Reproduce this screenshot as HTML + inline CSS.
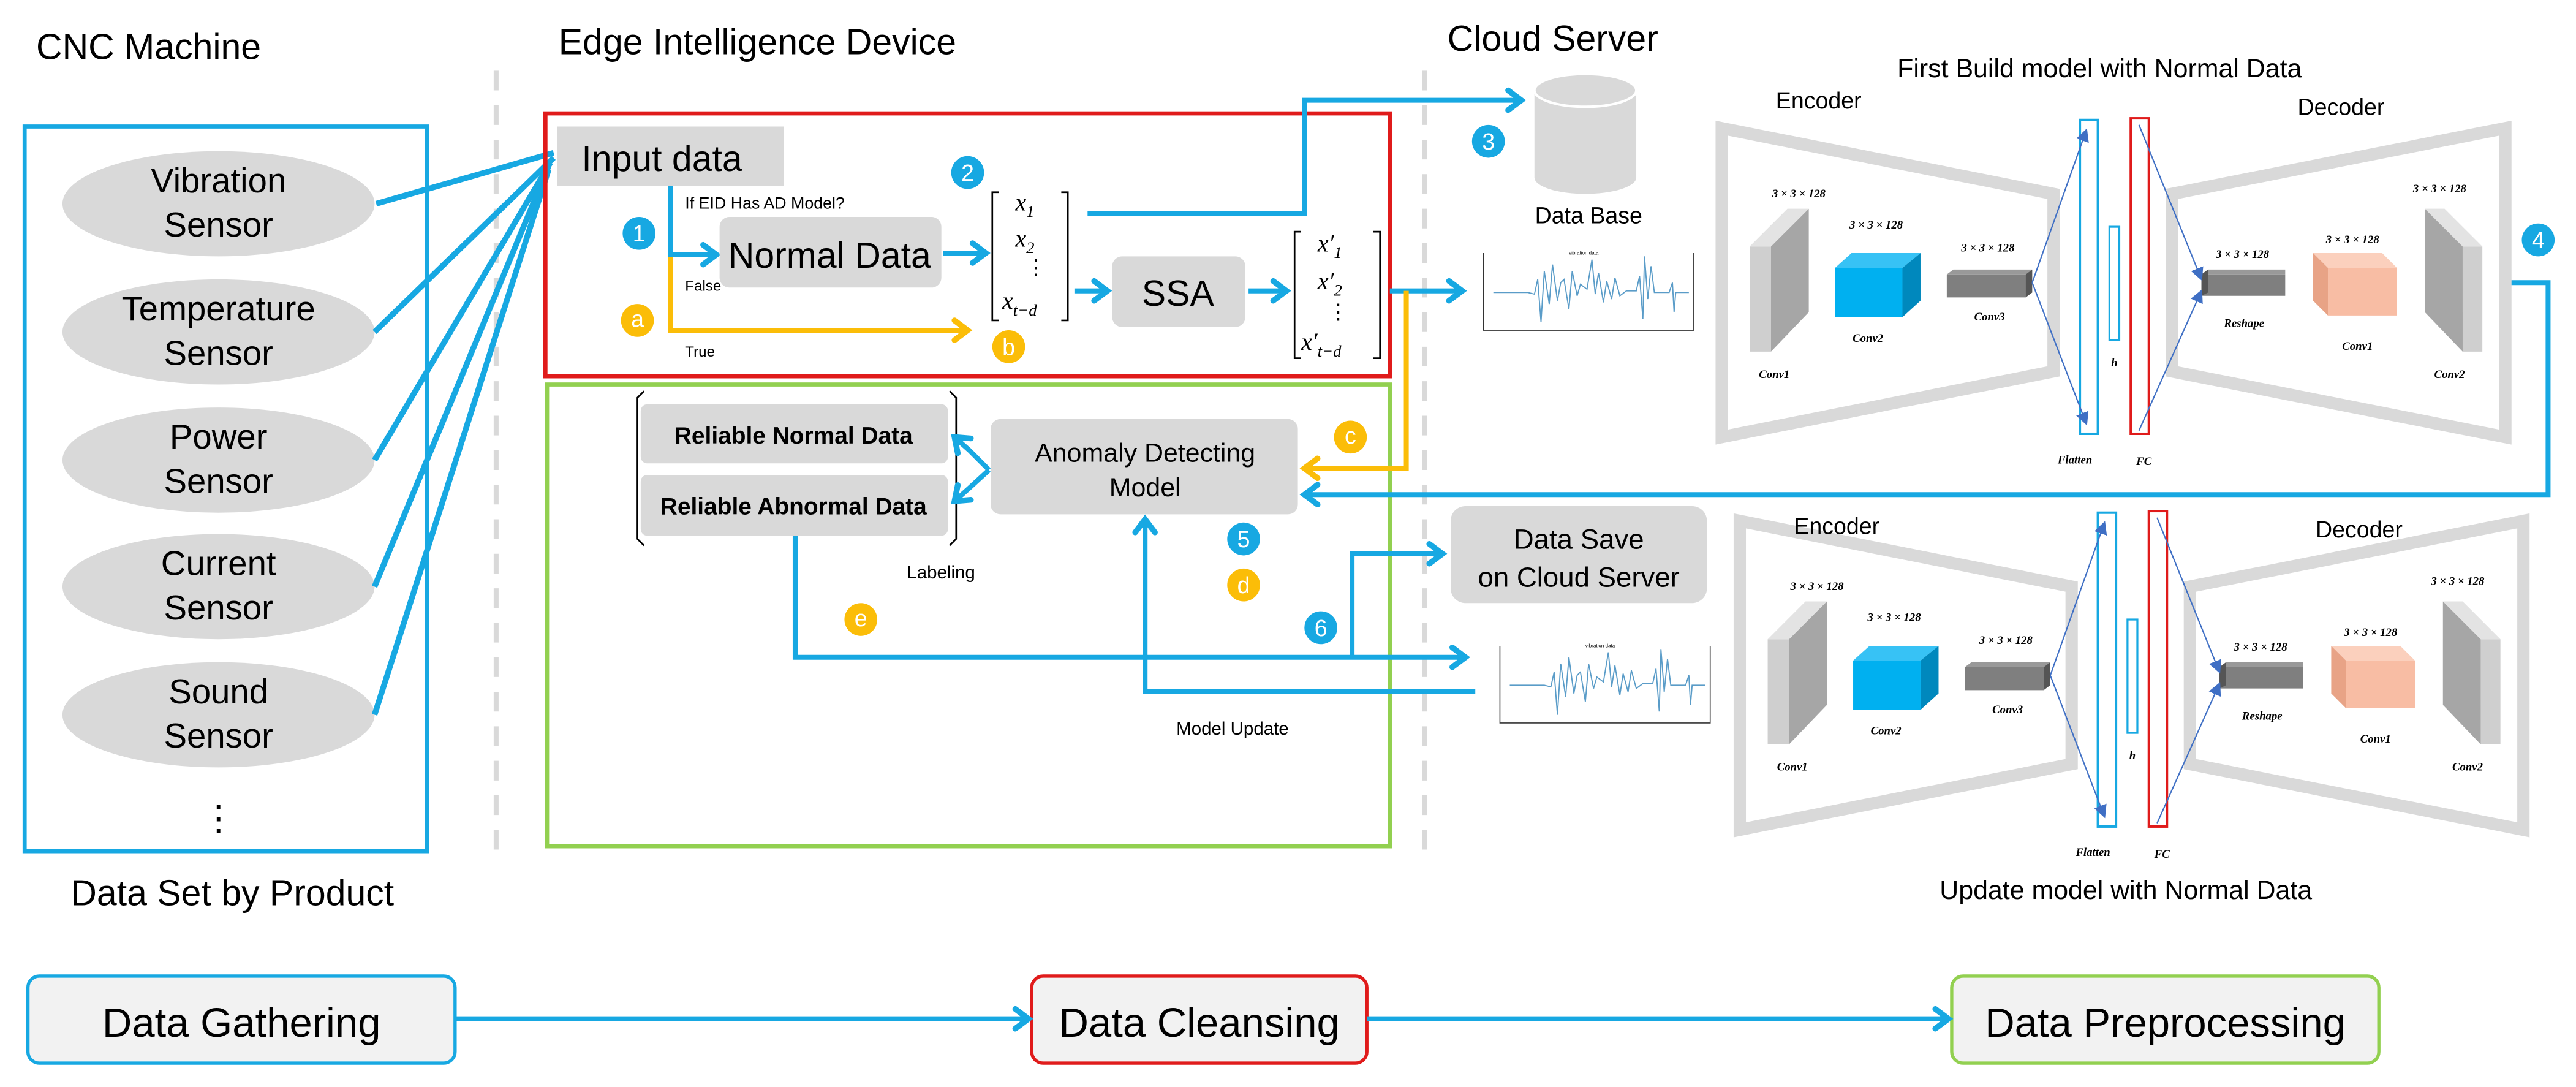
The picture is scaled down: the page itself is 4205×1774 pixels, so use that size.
<!DOCTYPE html>
<html><head><meta charset="utf-8"><style>
html,body{margin:0;padding:0;background:#fff;}
svg{display:block;}
text{font-family:"Liberation Sans",sans-serif;fill:#000;}
.m{font-family:"Liberation Serif",serif;font-style:italic;}
.s{font-family:"Liberation Serif",serif;font-style:italic;font-weight:bold;font-size:7px;}
</style></head><body>
<svg width="4205" height="1774" viewBox="0 0 1568 661.5" preserveAspectRatio="none" xmlns="http://www.w3.org/2000/svg">
<defs>
<marker id="ab" markerUnits="userSpaceOnUse" markerWidth="14" markerHeight="16" refX="11" refY="8" orient="auto"><path d="M3,2 L11,8 L3,14" fill="none" stroke="#17a8e2" stroke-width="3.5" stroke-linecap="round"/></marker>
<marker id="ao" markerUnits="userSpaceOnUse" markerWidth="14" markerHeight="16" refX="11" refY="8" orient="auto"><path d="M3,2 L11,8 L3,14" fill="none" stroke="#fbbd08" stroke-width="3.5" stroke-linecap="round"/></marker>
<marker id="ad" markerUnits="userSpaceOnUse" markerWidth="8" markerHeight="8" refX="7" refY="4" orient="auto"><path d="M0,0 L8,4 L0,8 Z" fill="#3f6fc4"/></marker>
</defs>

<text x="22" y="36" font-size="22">CNC Machine</text>
<text x="340" y="33" font-size="22">Edge Intelligence Device</text>
<text x="881" y="31" font-size="22">Cloud Server</text>

<line x1="302" y1="43" x2="302" y2="523" stroke="#d9d9d9" stroke-width="3" stroke-dasharray="12,9"/>
<line x1="867" y1="43" x2="867" y2="523" stroke="#d9d9d9" stroke-width="3" stroke-dasharray="12,9"/>

<rect x="15" y="77" width="245" height="441" fill="none" stroke="#17a8e2" stroke-width="2.5"/>
<g fill="#d9d9d9">
<ellipse cx="133" cy="124" rx="95" ry="32"/>
<ellipse cx="133" cy="202" rx="95" ry="32"/>
<ellipse cx="133" cy="280" rx="95" ry="32"/>
<ellipse cx="133" cy="357" rx="95" ry="32"/>
<ellipse cx="133" cy="435" rx="95" ry="32"/>
</g>
<g font-size="21" text-anchor="middle">
<text x="133" y="117">Vibration</text><text x="133" y="144">Sensor</text>
<text x="133" y="195">Temperature</text><text x="133" y="222">Sensor</text>
<text x="133" y="273">Power</text><text x="133" y="300">Sensor</text>
<text x="133" y="350">Current</text><text x="133" y="377">Sensor</text>
<text x="133" y="428">Sound</text><text x="133" y="455">Sensor</text>
<text x="133" y="505">⋮</text>
</g>
<text x="43" y="551" font-size="22">Data Set by Product</text>

<g stroke="#17a8e2" stroke-width="3.5" fill="none">
<line x1="229" y1="124" x2="337" y2="93"/>
<line x1="228" y1="202" x2="337" y2="96"/>
<line x1="228" y1="280" x2="335" y2="99"/>
<line x1="228" y1="357" x2="334" y2="101"/>
<line x1="228" y1="435" x2="334" y2="103"/>
</g>

<rect x="332" y="69" width="514" height="160" fill="none" stroke="#e01b1b" stroke-width="2.5"/>
<rect x="333" y="234" width="513" height="281" fill="none" stroke="#92d050" stroke-width="2.5"/>

<rect x="339" y="77" width="138" height="36" fill="#d9d9d9"/>
<text x="354" y="104" font-size="22">Input data</text>
<text x="417" y="127" font-size="10">If EID Has AD Model?</text>

<polyline points="408,155 408,201 589,201" fill="none" stroke="#fbbd08" stroke-width="3" marker-end="url(#ao)"/>
<polyline points="408,113 408,155 436,155" fill="none" stroke="#17a8e2" stroke-width="3" marker-end="url(#ab)"/>
<text x="417" y="177" font-size="9">False</text>
<text x="417" y="217" font-size="9">True</text>

<rect x="438" y="132" width="135" height="43" rx="6" fill="#d9d9d9"/>
<text x="505" y="163" font-size="22" text-anchor="middle">Normal Data</text>
<line x1="574" y1="154" x2="600" y2="154" stroke="#17a8e2" stroke-width="3" marker-end="url(#ab)"/>

<path d="M608,117 L604,117 L604,195 L608,195 M646,117 L650,117 L650,195 L646,195" fill="none" stroke="#000" stroke-width="1"/>
<text class="m" x="618" y="128" font-size="15">x<tspan font-size="10" dy="4">1</tspan></text>
<text class="m" x="618" y="150" font-size="15">x<tspan font-size="10" dy="4">2</tspan></text>
<text x="624" y="167" font-size="13">⋮</text>
<text class="m" x="610" y="188" font-size="15">x<tspan font-size="10" dy="4">t−d</tspan></text>

<line x1="654" y1="177" x2="674" y2="177" stroke="#17a8e2" stroke-width="3" marker-end="url(#ab)"/>
<rect x="677" y="156" width="81" height="43" rx="6" fill="#d9d9d9"/>
<text x="717" y="186" font-size="22" text-anchor="middle">SSA</text>
<line x1="760" y1="177" x2="783" y2="177" stroke="#17a8e2" stroke-width="3" marker-end="url(#ab)"/>

<path d="M792,141 L788,141 L788,218 L792,218 M836,141 L840,141 L840,218 L836,218" fill="none" stroke="#000" stroke-width="1"/>
<text class="m" x="802" y="153" font-size="15">x′<tspan font-size="10" dy="4">1</tspan></text>
<text class="m" x="802" y="176" font-size="15">x′<tspan font-size="10" dy="4">2</tspan></text>
<text x="808" y="194" font-size="13">⋮</text>
<text class="m" x="792" y="213" font-size="15">x′<tspan font-size="10" dy="4">t−d</tspan></text>

<polyline points="662,130 794,130 794,61 926,61" fill="none" stroke="#17a8e2" stroke-width="3" marker-end="url(#ab)"/>
<line x1="846" y1="177" x2="890" y2="177" stroke="#17a8e2" stroke-width="3" marker-end="url(#ab)"/>
<polyline points="856,177 856,285 794,285" fill="none" stroke="#fbbd08" stroke-width="3" marker-end="url(#ao)"/>
<polyline points="1528,172 1551,172 1551,301 794,301" fill="none" stroke="#17a8e2" stroke-width="3" marker-end="url(#ab)"/>

<path d="M392,238 L388,242 L388,328 L392,332 M578,238 L582,242 L582,328 L578,332" fill="none" stroke="#000" stroke-width="1"/>
<rect x="390" y="246" width="187" height="36" rx="4" fill="#d9d9d9"/>
<rect x="390" y="289" width="187" height="37" rx="4" fill="#d9d9d9"/>
<text x="483" y="270" font-size="14.5" font-weight="bold" text-anchor="middle">Reliable Normal Data</text>
<text x="483" y="313" font-size="14.5" font-weight="bold" text-anchor="middle">Reliable Abnormal Data</text>

<rect x="603" y="255" width="187" height="58" rx="6" fill="#d9d9d9"/>
<text x="697" y="281" font-size="16" text-anchor="middle">Anomaly Detecting</text>
<text x="697" y="302" font-size="16" text-anchor="middle">Model</text>
<polyline points="602,286 590,274 581,266" fill="none" stroke="#17a8e2" stroke-width="3" marker-end="url(#ab)"/>
<polyline points="602,286 590,297 581,305" fill="none" stroke="#17a8e2" stroke-width="3" marker-end="url(#ab)"/>
<text x="552" y="352" font-size="11">Labeling</text>

<polyline points="484,326 484,400 892,400" fill="none" stroke="#17a8e2" stroke-width="3" marker-end="url(#ab)"/>
<polyline points="823,400 823,337 878,337" fill="none" stroke="#17a8e2" stroke-width="3" marker-end="url(#ab)"/>
<polyline points="898,421 697,421 697,316" fill="none" stroke="#17a8e2" stroke-width="3" marker-end="url(#ab)"/>
<text x="716" y="447" font-size="11">Model Update</text>

<g font-size="14" text-anchor="middle">
<circle cx="389" cy="142" r="10" fill="#17a8e2"/><text x="389" y="147" style="fill:#fff">1</text>
<circle cx="589" cy="105" r="10" fill="#17a8e2"/><text x="589" y="110" style="fill:#fff">2</text>
<circle cx="906" cy="86" r="10" fill="#17a8e2"/><text x="906" y="91" style="fill:#fff">3</text>
<circle cx="1545" cy="146" r="10" fill="#17a8e2"/><text x="1545" y="151" style="fill:#fff">4</text>
<circle cx="757" cy="328" r="10" fill="#17a8e2"/><text x="757" y="333" style="fill:#fff">5</text>
<circle cx="804" cy="382" r="10" fill="#17a8e2"/><text x="804" y="387" style="fill:#fff">6</text>
<circle cx="388" cy="195" r="10" fill="#fbbd08"/><text x="388" y="199" style="fill:#fff">a</text>
<circle cx="614" cy="211" r="10" fill="#fbbd08"/><text x="614" y="216" style="fill:#fff">b</text>
<circle cx="822" cy="266" r="10" fill="#fbbd08"/><text x="822" y="270" style="fill:#fff">c</text>
<circle cx="757" cy="356" r="10" fill="#fbbd08"/><text x="757" y="361" style="fill:#fff">d</text>
<circle cx="524" cy="377" r="10" fill="#fbbd08"/><text x="524" y="381" style="fill:#fff">e</text>
</g>

<path d="M934,55 L934,108 A31,10 0 0 0 996,108 L996,55 Z" fill="#d9d9d9"/>
<ellipse cx="965" cy="55" rx="31" ry="10" fill="#d9d9d9" stroke="#fff" stroke-width="1.5"/>
<text x="967" y="136" font-size="14" text-anchor="middle">Data Base</text>

<g>
<text x="964" y="155" font-size="3" text-anchor="middle" fill="#555">vibration data</text>
<path d="M903,154 L903,201 L1031,201 L1031,154" fill="none" stroke="#333" stroke-width="0.6"/>
<polyline points="909,178 930,178 934,179 936,170 938,196 940,165 943,185 945,161 948,183 950,172 952,170 955,188 957,165 960,180 962,173 966,176 969,158 971,179 973,166 976,184 978,171 981,182 983,169 986,180 990,177 996,177 998,168 1000,194 1001,156 1003,182 1005,162 1007,178 1016,178 1018,172 1019,190 1020,178 1028,178" fill="none" stroke="#5a9cc8" stroke-width="0.7"/>
</g>
<g transform="translate(10,239)">
<text x="964" y="155" font-size="3" text-anchor="middle" fill="#555">vibration data</text>
<path d="M903,154 L903,201 L1031,201 L1031,154" fill="none" stroke="#333" stroke-width="0.6"/>
<polyline points="909,178 930,178 934,179 936,170 938,196 940,165 943,185 945,161 948,183 950,172 952,170 955,188 957,165 960,180 962,173 966,176 969,158 971,179 973,166 976,184 978,171 981,182 983,169 986,180 990,177 996,177 998,168 1000,194 1001,156 1003,182 1005,162 1007,178 1016,178 1018,172 1019,190 1020,178 1028,178" fill="none" stroke="#5a9cc8" stroke-width="0.7"/>
</g>

<rect x="883" y="308" width="156" height="59" rx="9" fill="#d9d9d9"/>
<text x="961" y="334" font-size="17" text-anchor="middle">Data Save</text>
<text x="961" y="357" font-size="17" text-anchor="middle">on Cloud Server</text>

<text x="1278" y="47" font-size="16" text-anchor="middle">First Build model with Normal Data</text>
<text x="1294" y="547" font-size="16" text-anchor="middle">Update model with Normal Data</text>

<g>
<polygon points="1048,78 1250,118 1250,226 1048,266" fill="none" stroke="#d9d9d9" stroke-width="7.5"/>
<polygon points="1322,118 1525,78 1525,266 1322,226" fill="none" stroke="#d9d9d9" stroke-width="7.5"/>
<text x="1107" y="66" font-size="14" text-anchor="middle">Encoder</text>
<text x="1425" y="70" font-size="14" text-anchor="middle">Decoder</text>
<rect x="1266" y="73" width="11" height="191" fill="none" stroke="#17a8e2" stroke-width="1.5"/>
<rect x="1284" y="138" width="6" height="69" fill="none" stroke="#17a8e2" stroke-width="1.2"/>
<rect x="1297" y="72" width="11" height="192" fill="none" stroke="#e01b1b" stroke-width="1.5"/>
<polygon points="1065,150 1078,150 1078,214 1065,214" fill="#cfcfcf"/>
<polygon points="1078,150 1101,127 1101,190 1078,214" fill="#a6a6a6"/>
<polygon points="1065,150 1088,127 1101,127 1078,150" fill="#e3e3e3"/>
<polygon points="1117,163 1158,163 1158,193 1117,193" fill="#00b0f0"/>
<polygon points="1117,163 1127,154 1169,154 1158,163" fill="#37c2f5"/>
<polygon points="1158,163 1169,154 1169,183 1158,193" fill="#0088bd"/>
<polygon points="1185,167 1233,167 1233,181 1185,181" fill="#7f7f7f"/>
<polygon points="1185,167 1189,164 1237,164 1233,167" fill="#999"/>
<polygon points="1233,167 1237,164 1237,178 1233,181" fill="#555"/>
<polygon points="1340,167 1391,167 1391,180 1340,180" fill="#7f7f7f"/>
<polygon points="1340,167 1344,164 1391,164 1391,167" fill="#999"/>
<polygon points="1340,167 1344,164 1344,178 1340,180" fill="#555"/>
<polygon points="1417,163 1459,163 1459,192 1417,192" fill="#f8bda4"/>
<polygon points="1408,154 1450,154 1459,163 1417,163" fill="#fbd0bd"/>
<polygon points="1408,154 1417,163 1417,192 1408,183" fill="#e8a386"/>
<polygon points="1499,150 1511,150 1511,214 1499,214" fill="#cfcfcf"/>
<polygon points="1476,127 1499,150 1499,214 1476,190" fill="#a6a6a6"/>
<polygon points="1476,127 1488,127 1511,150 1499,150" fill="#e3e3e3"/>
<g stroke="#3f6fc4" stroke-width="0.8" fill="none">
<line x1="1237" y1="172" x2="1270" y2="79" marker-end="url(#ad)"/>
<line x1="1237" y1="172" x2="1270" y2="258" marker-end="url(#ad)"/>
<line x1="1302" y1="76" x2="1340" y2="170" marker-end="url(#ad)"/>
<line x1="1302" y1="262" x2="1340" y2="177" marker-end="url(#ad)"/>
</g>
<text class="s" x="1095" y="120" text-anchor="middle">3 × 3 × 128</text>
<text class="s" x="1142" y="139" text-anchor="middle">3 × 3 × 128</text>
<text class="s" x="1210" y="153" text-anchor="middle">3 × 3 × 128</text>
<text class="s" x="1365" y="157" text-anchor="middle">3 × 3 × 128</text>
<text class="s" x="1432" y="148" text-anchor="middle">3 × 3 × 128</text>
<text class="s" x="1485" y="117" text-anchor="middle">3 × 3 × 128</text>
<text class="s" x="1080" y="230" text-anchor="middle">Conv1</text>
<text class="s" x="1137" y="208" text-anchor="middle">Conv2</text>
<text class="s" x="1211" y="195" text-anchor="middle">Conv3</text>
<text class="s" x="1366" y="199" text-anchor="middle">Reshape</text>
<text class="s" x="1435" y="213" text-anchor="middle">Conv1</text>
<text class="s" x="1491" y="230" text-anchor="middle">Conv2</text>
<text class="s" x="1263" y="282" text-anchor="middle">Flatten</text>
<text class="s" x="1287" y="223" text-anchor="middle">h</text>
<text class="s" x="1305" y="283" text-anchor="middle">FC</text>
</g>

<g transform="translate(11,239)">
<polygon points="1048,78 1250,118 1250,226 1048,266" fill="none" stroke="#d9d9d9" stroke-width="7.5"/>
<polygon points="1322,118 1525,78 1525,266 1322,226" fill="none" stroke="#d9d9d9" stroke-width="7.5"/>
<text x="1107" y="86" font-size="14" text-anchor="middle">Encoder</text>
<text x="1425" y="88" font-size="14" text-anchor="middle">Decoder</text>
<rect x="1266" y="73" width="11" height="191" fill="none" stroke="#17a8e2" stroke-width="1.5"/>
<rect x="1284" y="138" width="6" height="69" fill="none" stroke="#17a8e2" stroke-width="1.2"/>
<rect x="1297" y="72" width="11" height="192" fill="none" stroke="#e01b1b" stroke-width="1.5"/>
<polygon points="1065,150 1078,150 1078,214 1065,214" fill="#cfcfcf"/>
<polygon points="1078,150 1101,127 1101,190 1078,214" fill="#a6a6a6"/>
<polygon points="1065,150 1088,127 1101,127 1078,150" fill="#e3e3e3"/>
<polygon points="1117,163 1158,163 1158,193 1117,193" fill="#00b0f0"/>
<polygon points="1117,163 1127,154 1169,154 1158,163" fill="#37c2f5"/>
<polygon points="1158,163 1169,154 1169,183 1158,193" fill="#0088bd"/>
<polygon points="1185,167 1233,167 1233,181 1185,181" fill="#7f7f7f"/>
<polygon points="1185,167 1189,164 1237,164 1233,167" fill="#999"/>
<polygon points="1233,167 1237,164 1237,178 1233,181" fill="#555"/>
<polygon points="1340,167 1391,167 1391,180 1340,180" fill="#7f7f7f"/>
<polygon points="1340,167 1344,164 1391,164 1391,167" fill="#999"/>
<polygon points="1340,167 1344,164 1344,178 1340,180" fill="#555"/>
<polygon points="1417,163 1459,163 1459,192 1417,192" fill="#f8bda4"/>
<polygon points="1408,154 1450,154 1459,163 1417,163" fill="#fbd0bd"/>
<polygon points="1408,154 1417,163 1417,192 1408,183" fill="#e8a386"/>
<polygon points="1499,150 1511,150 1511,214 1499,214" fill="#cfcfcf"/>
<polygon points="1476,127 1499,150 1499,214 1476,190" fill="#a6a6a6"/>
<polygon points="1476,127 1488,127 1511,150 1499,150" fill="#e3e3e3"/>
<g stroke="#3f6fc4" stroke-width="0.8" fill="none">
<line x1="1237" y1="172" x2="1270" y2="79" marker-end="url(#ad)"/>
<line x1="1237" y1="172" x2="1270" y2="258" marker-end="url(#ad)"/>
<line x1="1302" y1="76" x2="1340" y2="170" marker-end="url(#ad)"/>
<line x1="1302" y1="262" x2="1340" y2="177" marker-end="url(#ad)"/>
</g>
<text class="s" x="1095" y="120" text-anchor="middle">3 × 3 × 128</text>
<text class="s" x="1142" y="139" text-anchor="middle">3 × 3 × 128</text>
<text class="s" x="1210" y="153" text-anchor="middle">3 × 3 × 128</text>
<text class="s" x="1365" y="157" text-anchor="middle">3 × 3 × 128</text>
<text class="s" x="1432" y="148" text-anchor="middle">3 × 3 × 128</text>
<text class="s" x="1485" y="117" text-anchor="middle">3 × 3 × 128</text>
<text class="s" x="1080" y="230" text-anchor="middle">Conv1</text>
<text class="s" x="1137" y="208" text-anchor="middle">Conv2</text>
<text class="s" x="1211" y="195" text-anchor="middle">Conv3</text>
<text class="s" x="1366" y="199" text-anchor="middle">Reshape</text>
<text class="s" x="1435" y="213" text-anchor="middle">Conv1</text>
<text class="s" x="1491" y="230" text-anchor="middle">Conv2</text>
<text class="s" x="1263" y="282" text-anchor="middle">Flatten</text>
<text class="s" x="1287" y="223" text-anchor="middle">h</text>
<text class="s" x="1305" y="283" text-anchor="middle">FC</text>
</g>

<rect x="17" y="594" width="260" height="53" rx="7" fill="#f2f2f2" stroke="#17a8e2" stroke-width="2"/>
<rect x="628" y="594" width="204" height="53" rx="7" fill="#f2f2f2" stroke="#e01b1b" stroke-width="2"/>
<rect x="1188" y="594" width="260" height="53" rx="7" fill="#f2f2f2" stroke="#92d050" stroke-width="2"/>
<text x="147" y="631" font-size="25" text-anchor="middle">Data Gathering</text>
<text x="730" y="631" font-size="25" text-anchor="middle">Data Cleansing</text>
<text x="1318" y="631" font-size="25" text-anchor="middle">Data Preprocessing</text>
<line x1="277" y1="620" x2="626" y2="620" stroke="#17a8e2" stroke-width="3" marker-end="url(#ab)"/>
<line x1="832" y1="620" x2="1186" y2="620" stroke="#17a8e2" stroke-width="3" marker-end="url(#ab)"/>
</svg>
</body></html>
